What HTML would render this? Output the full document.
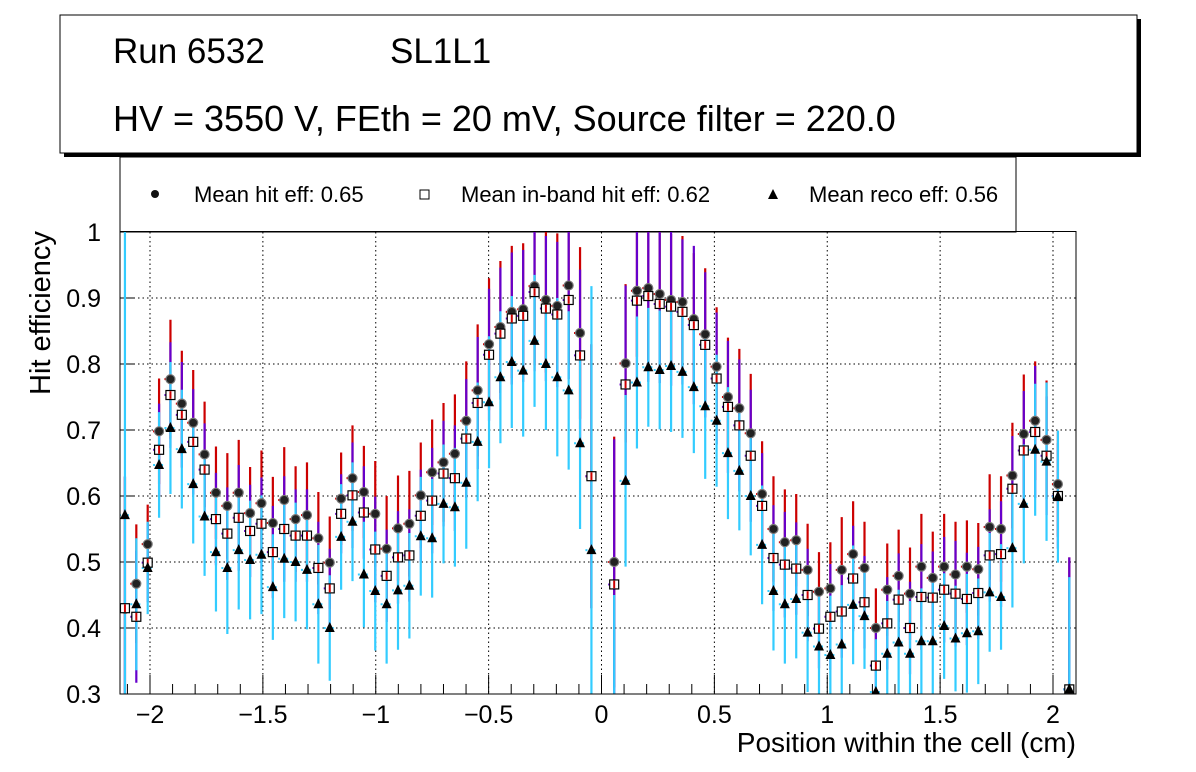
<!DOCTYPE html>
<html><head><meta charset="utf-8"><style>
html,body{margin:0;padding:0;background:#fff;width:1196px;height:772px;overflow:hidden;}
svg{display:block;font-family:"Liberation Sans",sans-serif;}
</style></head><body>
<svg id="c" width="1196" height="772" viewBox="0 0 1196 772">
<rect x="0" y="0" width="1196" height="772" fill="#fff"/>
<g>
<rect x="64" y="19" width="1077" height="138" fill="#000"/>
<rect x="60" y="15" width="1077" height="138" fill="#fff" stroke="#000" stroke-width="1"/>
<text x="113" y="63" font-size="35">Run 6532</text>
<text x="390" y="63" font-size="35">SL1L1</text>
<text x="113" y="131" font-size="36">HV = 3550 V, FEth = 20 mV, Source filter = 220.0</text>
</g>
<g>
<rect x="120" y="157" width="896" height="75" fill="#fff" stroke="#000" stroke-width="1"/>
<g>
<circle cx="155" cy="194" r="4" fill="#111"/>
<text x="194" y="202" font-size="22">Mean hit  eff: 0.65</text></g>
<g>
<rect x="420" y="190" width="9" height="9" fill="#fff" stroke="#000" stroke-width="1"/>
<text x="461" y="202" font-size="22">Mean in-band hit eff: 0.62</text></g>
<g>
<polygon points="773,189 768,199 778,199" fill="#000"/>
<text x="809" y="202" font-size="22">Mean reco eff: 0.56</text></g>
</g>
<defs><clipPath id="pc"><rect x="120" y="231" width="956" height="463"/></clipPath></defs>
<g id="grid"></g>
<g id="axes"></g>
<g id="marks" clip-path="url(#pc)"></g>
<rect x="120" y="231.5" width="956" height="462.5" fill="none" stroke="#000" stroke-width="1"/>
<text x="50" y="313" font-size="29" text-anchor="middle" transform="rotate(-90 50 313)">Hit efficiency</text>
<text x="1076" y="752" font-size="28" text-anchor="end">Position within the cell (cm)</text>
</svg>
<script>
const hitEff=[0.429,0.467,0.527,0.698,0.777,0.740,0.711,0.663,0.605,0.585,0.605,0.574,0.589,0.559,0.594,0.565,0.571,0.536,0.499,0.596,0.627,0.606,0.573,0.520,0.551,0.558,0.601,0.636,0.651,0.664,0.714,0.760,0.830,0.856,0.879,0.883,0.918,0.897,0.888,0.919,0.847,0.630,null,0.500,0.801,0.911,0.915,0.906,0.897,0.894,0.868,0.845,0.796,0.750,0.733,0.695,0.603,0.550,0.530,0.533,0.488,0.455,0.460,0.488,0.512,0.491,0.400,0.458,0.479,0.452,0.493,0.476,0.493,0.481,0.493,0.489,0.553,0.550,0.631,0.694,0.714,0.685,0.618,0.307];
const bandEff=[0.43,0.417,0.499,0.670,0.753,0.723,0.682,0.640,0.565,0.543,0.567,0.547,0.558,0.515,0.550,0.540,0.540,0.491,0.460,0.573,0.601,0.575,0.519,0.479,0.507,0.510,0.570,0.593,0.634,0.627,0.687,0.741,0.814,0.846,0.869,0.873,0.909,0.884,0.875,0.897,0.813,0.630,null,0.466,0.769,0.896,0.903,0.891,0.887,0.879,0.859,0.829,0.778,0.735,0.707,0.661,0.585,0.506,0.496,0.490,0.450,0.399,0.417,0.425,0.475,0.439,0.343,0.407,0.443,0.400,0.447,0.446,0.458,0.452,0.444,0.453,0.510,0.512,0.611,0.669,0.697,0.661,0.600,0.307];
const recoEff=[0.571,0.436,0.491,0.647,0.703,0.671,0.618,0.569,0.515,0.491,0.518,0.503,0.511,0.462,0.505,0.500,0.488,0.436,0.400,0.538,0.561,0.481,0.456,0.436,0.457,0.464,0.539,0.536,0.588,0.583,0.620,0.682,0.742,0.780,0.803,0.790,0.835,0.800,0.780,0.760,0.680,0.518,null,0.25,0.623,0.772,0.795,0.791,0.797,0.788,0.765,0.736,0.714,0.665,0.638,0.600,0.526,0.456,0.436,0.444,0.393,0.372,0.359,0.375,0.435,0.418,0.303,0.361,0.378,0.361,0.380,0.380,0.403,0.384,0.392,0.395,0.454,0.447,0.521,0.588,0.670,0.652,0.599,0.307];
const hitErr=[0.2,0.09,0.06,0.08,0.09,0.08,0.08,0.08,0.07,0.08,0.08,0.07,0.08,0.07,0.08,0.08,0.08,0.07,0.07,0.07,0.08,0.07,0.08,0.08,0.08,0.08,0.08,0.08,0.09,0.09,0.09,0.1,0.1,0.1,0.1,0.1,0.12,0.11,0.11,0.12,0.13,0.2,null,0.19,0.12,0.1,0.11,0.11,0.1,0.1,0.1,0.1,0.09,0.09,0.09,0.09,0.08,0.08,0.08,0.07,0.07,0.06,0.07,0.08,0.08,0.07,0.06,0.07,0.07,0.07,0.08,0.07,0.08,0.08,0.07,0.07,0.08,0.08,0.08,0.09,0.09,0.09,0.08,0.2];
const bandErr=[0.2,0.1,0.06,0.07,0.08,0.08,0.08,0.07,0.07,0.07,0.08,0.07,0.07,0.07,0.08,0.07,0.07,0.07,0.06,0.06,0.08,0.07,0.08,0.07,0.07,0.07,0.07,0.08,0.08,0.08,0.09,0.1,0.1,0.1,0.1,0.1,0.12,0.11,0.11,0.12,0.13,0.2,null,0.22,0.15,0.12,0.13,0.12,0.12,0.11,0.12,0.11,0.1,0.1,0.1,0.1,0.08,0.08,0.08,0.07,0.07,0.06,0.08,0.07,0.08,0.07,0.06,0.07,0.07,0.07,0.08,0.07,0.08,0.08,0.07,0.07,0.07,0.08,0.08,0.09,0.1,0.09,0.08,0.2];
const recoErr=[0.6,0.1,0.07,0.08,0.1,0.09,0.09,0.09,0.09,0.1,0.09,0.09,0.09,0.08,0.09,0.09,0.09,0.09,0.08,0.08,0.09,0.08,0.09,0.09,0.09,0.08,0.09,0.09,0.09,0.09,0.1,0.09,0.1,0.1,0.1,0.1,0.1,0.1,0.12,0.12,0.13,0.4,null,0.2,0.13,0.1,0.09,0.09,0.1,0.1,0.1,0.11,0.1,0.1,0.09,0.09,0.09,0.09,0.09,0.09,0.09,0.08,0.09,0.09,0.09,0.08,0.08,0.08,0.08,0.08,0.08,0.09,0.08,0.08,0.09,0.08,0.09,0.08,0.09,0.09,0.1,0.12,0.1,0.17];
const xStart=-2.111, binStep=0.0504;
const yTicks=[0.3,0.4,0.5,0.6,0.7,0.8,0.9,1];
const yTickLabels=["0.3","0.4","0.5","0.6","0.7","0.8","0.9","1"];
const xTicks=[-2,-1.5,-1,-0.5,0,0.5,1,1.5,2];
const xTickLabels=["\u22122","\u22121.5","\u22121","\u22120.5","0","0.5","1","1.5","2"];
const NS="http://www.w3.org/2000/svg";
const X=v=>601.5+v*225.75, Y=v=>232+(1-v)*660;
function mk(t,a,p){const e=document.createElementNS(NS,t);for(const k in a)e.setAttribute(k,a[k]);p.appendChild(e);return e;}
const grid=document.getElementById('grid'),axes=document.getElementById('axes'),marks=document.getElementById('marks');
yTicks.forEach((v,i)=>{
 if(v>0.3&&v<1){const l=mk('line',{x1:120,x2:1076,y1:Y(v),y2:Y(v),stroke:'#000','stroke-width':1,'stroke-dasharray':'1.5,3'},grid);
 
 }
 const t=mk('line',{x1:120,x2:135,y1:Y(v),y2:Y(v),stroke:'#000'},axes);
 
 
 const lb=mk('text',{x:101,y:Y(v)+9,'font-size':25,'text-anchor':'end'},axes);lb.textContent=yTickLabels[i];
 
 
});
xTicks.forEach((v,i)=>{
 const l=mk('line',{x1:X(v),x2:X(v),y1:232,y2:694,stroke:'#000','stroke-width':1,'stroke-dasharray':'1.5,3'},grid);
 
 
 const t=mk('line',{x1:X(v),x2:X(v),y1:694,y2:675,stroke:'#000'},axes);
 
 
 const lb=mk('text',{x:X(v),y:723,'font-size':25,'text-anchor':'middle'},axes);lb.textContent=xTickLabels[i];
 
 
});
for(let k=-21;k<=20;k++){const v=k/10;if(k%5===0)continue;
 const t=mk('line',{x1:X(v),x2:X(v),y1:694,y2:684,stroke:'#000'},axes);
 
 }
const series=[[hitEff,hitErr,'#cc0000','hit'],[bandEff,bandErr,'#6600cc','inband'],[recoEff,recoErr,'#33ccff','reco']];
series.forEach(([vals,errs,col,nm])=>{
 vals.forEach((v,i)=>{if(v===null)return;const x=X(xStart+i*binStep);
  const b=mk('line',{x1:x,x2:x,y1:Y(v+errs[i]),y2:Y(v-errs[i]),stroke:col,'stroke-width':2.2},marks);
  
  
  const h=mk('line',{x1:x-6,x2:x+6,y1:Y(v),y2:Y(v),stroke:col,'stroke-width':2,'stroke-dasharray':'2,2'},marks);
  
  
 });
});
hitEff.forEach((v,i)=>{if(v===null)return;const x=X(xStart+i*binStep);
 const c=mk('circle',{cx:x,cy:Y(v),r:4.5,fill:'#222',stroke:'#777','stroke-width':1.2},marks);
 
 });
bandEff.forEach((v,i)=>{if(v===null)return;const x=X(xStart+i*binStep);
 const s=mk('rect',{x:x-4.5,y:Y(v)-4.5,width:9,height:9,fill:'#fff',stroke:'#000','stroke-width':1.2},marks);
 
 
 const r=mk('line',{x1:x,x2:x,y1:Y(v)-3.8,y2:Y(v)+3.8,stroke:'#cc0000','stroke-width':2},marks);
 
 });
recoEff.forEach((v,i)=>{if(v===null)return;const x=X(xStart+i*binStep),y=Y(v);
 const p=mk('polygon',{points:`${x},${y-6} ${x-5},${y+4} ${x+5},${y+4}`,fill:'#000'},marks);
 
 });
</script>
</body></html>
